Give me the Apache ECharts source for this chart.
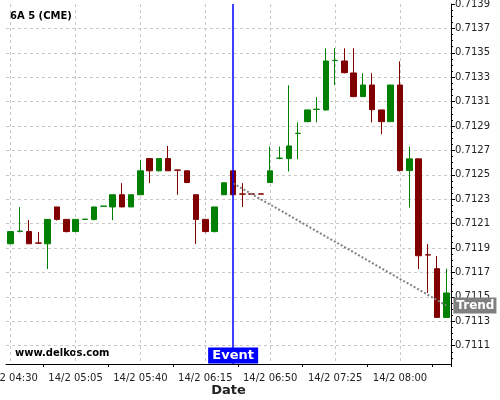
<!DOCTYPE html>
<html><head><meta charset="utf-8">
<script src="https://cdn.jsdelivr.net/npm/echarts@6/dist/echarts.min.js"></script>
<style>html,body{margin:0;padding:0;background:#fff}#c{width:500px;height:400px}</style>
</head><body><div id="c"></div>
<script>
const categories = ['14/2 04:30','14/2 04:35','14/2 04:40','14/2 04:45','14/2 04:50','14/2 04:55',
'14/2 05:00','14/2 05:05','14/2 05:10','14/2 05:15','14/2 05:20','14/2 05:25','14/2 05:30','14/2 05:35',
'14/2 05:40','14/2 05:45','14/2 05:50','14/2 05:55','14/2 06:00','14/2 06:05','14/2 06:10','14/2 06:15',
'14/2 06:20','14/2 06:25','14/2 06:30','14/2 06:35','14/2 06:40','14/2 06:45','14/2 06:50','14/2 06:55',
'14/2 07:00','14/2 07:05','14/2 07:10','14/2 07:15','14/2 07:20','14/2 07:25','14/2 07:30','14/2 07:35',
'14/2 07:40','14/2 07:45','14/2 07:50','14/2 07:55','14/2 08:00','14/2 08:05','14/2 08:10','14/2 08:15',
'14/2 08:20','14/2 08:25'];
const opens = [0.711935,0.712037,0.712035,0.711942,0.711935,0.712237,0.712135,0.712035,0.712135,0.712135,
0.712242,0.712237,0.712337,0.712237,0.712337,0.712633,0.712533,0.712633,0.712540,0.712533,
0.712337,0.712135,0.712035,0.712337,0.712533,0.712344,0.712344,0.712344,0.712437,0.712635,
0.712633,0.712839,0.712936,0.713036,0.713032,0.713436,0.713433,0.713335,0.713141,0.713236,
0.713032,0.712936,0.713236,0.712535,0.712631,0.711845,0.711731,0.711332];
const closes = [0.712035,0.712039,0.711935,0.711940,0.712135,0.712135,0.712035,0.712135,0.712137,0.712237,
0.712244,0.712337,0.712237,0.712337,0.712533,0.712533,0.712633,0.712533,0.712538,0.712437,
0.712135,0.712035,0.712237,0.712435,0.712337,0.712342,0.712342,0.712342,0.712533,0.712637,
0.712737,0.712841,0.713032,0.713038,0.713433,0.713438,0.713337,0.713141,0.713236,0.713034,
0.712936,0.713236,0.712535,0.712631,0.711837,0.711843,0.711332,0.711532];
const lows = [0.711935,0.712028,0.711935,0.711933,0.711728,0.712126,0.712028,0.712035,0.712135,0.712126,
0.712242,0.712129,0.712237,0.712237,0.712337,0.712432,0.712528,0.712533,0.712337,0.712432,
0.711933,0.712028,0.712028,0.712337,0.712337,0.712236,0.712342,0.712342,0.712437,0.712628,
0.712527,0.712628,0.712931,0.712931,0.713026,0.713236,0.713332,0.713136,0.713141,0.712931,
0.712833,0.712936,0.712527,0.712232,0.711728,0.711532,0.711327,0.711332];
const highs = [0.712035,0.712236,0.712129,0.712031,0.712135,0.712237,0.712135,0.712135,0.712137,0.712237,
0.712244,0.712337,0.712432,0.712337,0.712623,0.712633,0.712633,0.712737,0.712540,0.712533,
0.712337,0.712135,0.712237,0.712435,0.712533,0.712432,0.712344,0.712344,0.712732,0.712732,
0.713234,0.712931,0.713032,0.713136,0.713537,0.713537,0.713537,0.713537,0.713332,0.713332,
0.713032,0.713236,0.713430,0.712732,0.712631,0.711933,0.711835,0.711731];
const yTickLabels = ['0.7111','0.7113','0.7115','0.7117','0.7119','0.7121','0.7123','0.7125','0.7127',
'0.7129','0.7131','0.7133','0.7135','0.7137','0.7139'];
const eventIndex = 24;
const eventLabelValue = 0.71102;
const trendStart = [24, 0.71243];
const trendEnd = [47, 0.71143];
const yMin = 0.71095, yMax = 0.7139;

const yTicks = yTickLabels.map(Number);
const yGridTicks = yTicks.filter(v => v < 0.71389);
const yMinorTicks = [];
for (let k = 0; k <= 59; k++) yMinorTicks.push(+(0.7110 + k * 0.00005).toFixed(5));

const candleData = categories.map((c, i) => [opens[i], closes[i], lows[i], highs[i]]);
const font = 'DejaVu Sans';
const gridColor = '#c8c8c8';

const chart = echarts.init(document.getElementById('c'), null, {renderer: 'canvas'});
chart.setOption({
  animation: false,
  textStyle: {fontFamily: font},
  title: {text: '6A 5 (CME)', left: 10, top: 11, padding: 0,
    textStyle: {fontSize: 10, fontWeight: 'bold', color: '#000', fontFamily: font}},
  graphic: [{type: 'text', left: 15, top: 348,
    style: {text: 'www.delkos.com', font: 'bold 10px "DejaVu Sans"', fill: '#000'}}],
  grid: {left: 6, right: 49, top: 4, bottom: 36, containLabel: false, outerBoundsMode: 'none'},
  xAxis: [{
    type: 'category', data: categories, boundaryGap: true, position: 'bottom',
    axisLine: {lineStyle: {color: '#000', width: 1}},
    axisTick: {alignWithLabel: true, interval: 6, length: 5, lineStyle: {color: '#000'}},
    axisLabel: {interval: 6, color: '#222', fontSize: 10, margin: 9, fontFamily: font, hideOverlap: false},
    splitLine: {show: true, interval: 6, alignWithLabel: true, lineStyle: {color: gridColor, type: [3, 3]}},
    name: 'Date', nameLocation: 'middle', nameGap: 20, nameMoveOverlap: false,
    nameTextStyle: {fontWeight: 'bold', fontSize: 13, color: '#222', fontFamily: font}
  }, {
    type: 'category', data: categories, boundaryGap: true, position: 'bottom',
    axisLine: {show: false}, axisLabel: {show: false}, splitLine: {show: false},
    axisTick: {show: true, length: 3, interval: (i) => i % 7 === 4, lineStyle: {color: '#000'}}
  }],
  yAxis: [{
    type: 'value', position: 'right', min: yMin, max: yMax,
    axisLine: {show: true, lineStyle: {color: '#000'}},
    axisTick: {show: true, length: 4, customValues: yTicks, lineStyle: {color: '#000'}},
    axisLabel: {customValues: yTicks, formatter: v => v.toFixed(4), margin: 4, color: '#222', fontSize: 10, fontFamily: font},
    splitLine: {show: false}
  }, {
    type: 'value', position: 'right', min: yMin, max: yMax,
    axisLine: {show: false}, axisLabel: {show: false}, splitLine: {show: false},
    axisTick: {show: true, length: 2, customValues: yMinorTicks, lineStyle: {color: '#000'}}
  }, {
    type: 'value', position: 'right', min: yMin, max: yMax,
    axisLine: {show: false}, axisLabel: {show: false}, axisTick: {show: false, customValues: yGridTicks},
    splitLine: {show: true, lineStyle: {color: gridColor, type: [3, 3]}}
  }],
  series: [{
    type: 'candlestick', data: candleData, barWidth: 6,
    itemStyle: {color: '#008000', color0: '#800000', borderColor: '#008000', borderColor0: '#800000', borderWidth: 1}
  }, {
    type: 'line', data: [trendStart, trendEnd], symbol: 'none', clip: false, z: 3,
    lineStyle: {color: '#808080', width: 2, type: [2, 2]},
    endLabel: {show: true, formatter: 'Trend', color: '#fff', backgroundColor: '#808080', fontWeight: 'bold',
      fontSize: 12, fontFamily: font, padding: [2, 2, 2, 3], distance: 7}
  }, {
    type: 'scatter', data: [[eventIndex, eventLabelValue]], symbol: 'rect', symbolSize: [50, 16], z: 5, silent: true,
    itemStyle: {color: '#0000ff', opacity: 1},
    label: {show: true, position: 'inside', formatter: 'Event', color: '#fff', fontWeight: 'bold', fontSize: 13, fontFamily: font},
    markLine: {symbol: ['none', 'none'], silent: true, label: {show: false},
      lineStyle: {color: '#0000ff', width: 1.5, type: 'solid', opacity: 1}, data: [{xAxis: categories[eventIndex]}]}
  }]
});
</script></body></html>
